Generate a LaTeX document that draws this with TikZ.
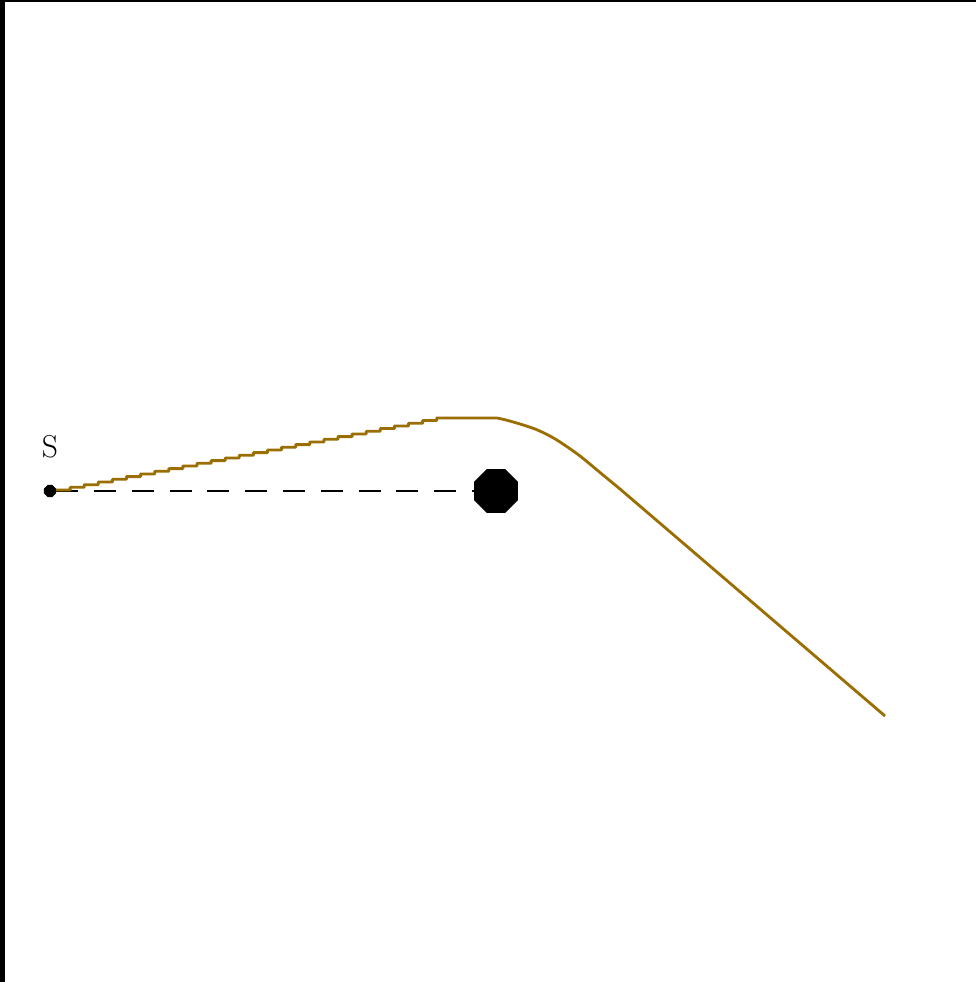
\documentclass[tikz,border=0pt]{standalone}
\usepackage{tikz}
\usetikzlibrary{shapes.geometric,positioning}
\definecolor{ochre}{HTML}{9A6E00}
\definecolor{ink}{HTML}{000000}
\definecolor{paper}{HTML}{FFFFFF}

\begin{document}
\begin{tikzpicture}[
  x=0.02cm,y=-0.02cm,
  marker/.style={regular polygon,regular polygon sides=8,fill=ink,draw=none,
                 inner sep=0pt,minimum size=0.26cm},
  obstacle/.style={regular polygon,regular polygon sides=8,fill=ink,draw=none,
                   inner sep=0pt,minimum size=0.95cm},
  sightline/.style={draw=ink,line width=1.4pt,dash pattern=on 12.5pt off 9pt},
  trail/.style={draw=ochre,line width=1.6pt,line join=round},
  lbl/.style={font=\fontsize{18}{22}\selectfont,inner sep=0pt},
]

% Canvas and frame edges.
\useasboundingbox (0,0) rectangle (976,982);
\fill[paper] (0,0) rectangle (976,982);
\fill[ink] (0,0) rectangle (5,982);
\fill[ink] (0,0) rectangle (976,2);

% Source point and obstacle.
\node[marker] (src) at (50,491) {};
\node[lbl,above=0.52cm of src] (srclbl) {S};
\node[obstacle] (obst) at (496,491) {};

% Straight sight line.
\draw[sightline] (src) -- (obst);

% Stepped trail over the obstacle.
\draw[trail] (56,490)
  \foreach \k in {1,...,27} { -| ++(14.1,-2.67) }
  -- (497,418)
  -- plot[smooth] coordinates {(497,418) (506,420) (520,424) (535,429)
                                (548,435) (560,442) (580,456) (603,475)
                                (620,489)}
  -- (885,716);

\end{tikzpicture}
\end{document}
